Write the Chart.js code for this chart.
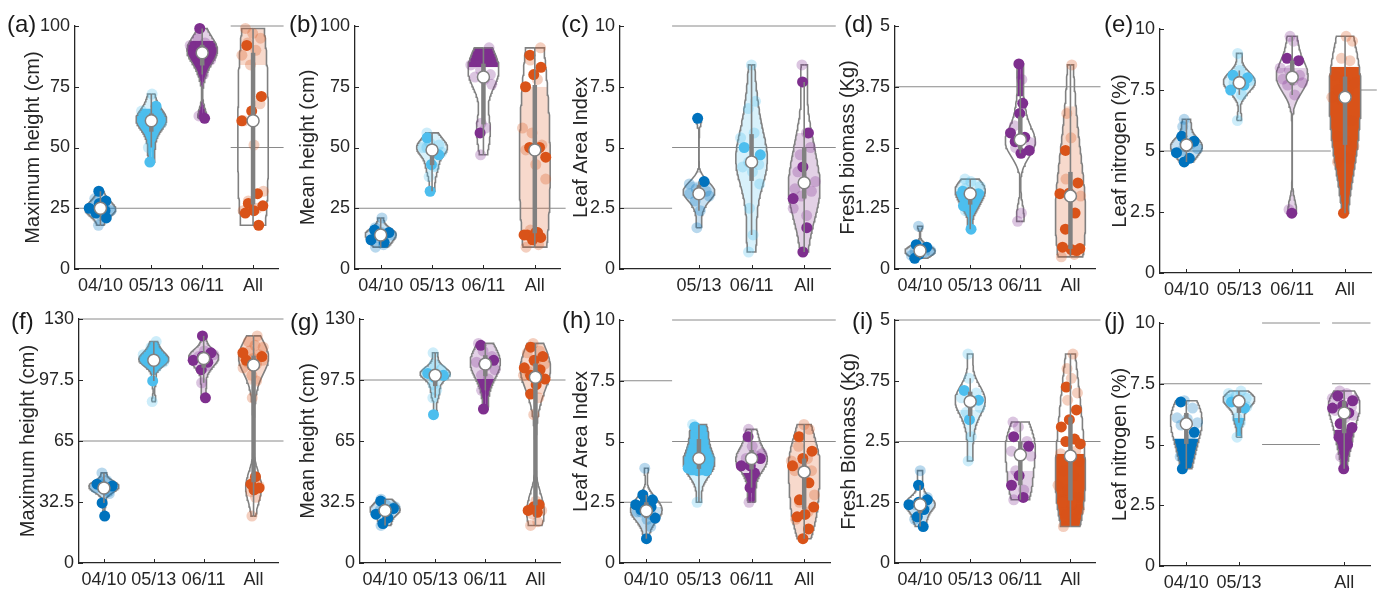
<!DOCTYPE html>
<html><head><meta charset="utf-8">
<script src="https://cdn.jsdelivr.net/npm/chart.js@4.4.1/dist/chart.umd.min.js"></script>
<style>
html,body{margin:0;padding:0;background:#fff;width:1382px;height:590px;overflow:hidden;position:relative;font-family:"Liberation Sans",Arial,Helvetica,sans-serif;}
canvas{position:absolute;}
.lbl{position:absolute;font-size:24px;line-height:24px;color:#1a1a1a;white-space:nowrap;}
</style></head><body>
<script>
// ---------------- DATA ----------------
const CATS = ['04/10', '05/13', '06/11', 'All'];

const ticks100 = [0, 25, 50, 75, 100];
const ticks10 = [0, 2.5, 5, 7.5, 10];
const ticks5 = [0, 1.25, 2.5, 3.75, 5];
const ticks130 = [0, 32.5, 65, 97.5, 130];
const labels100 = ['0', '25', '50', '75', '100'];
const labels10 = ['0', '2.5', '5', '7.5', '10'];
const labels5 = ['0', '1.25', '2.5', '3.75', '5'];
const labels130 = ['0', '32.5', '65', '97.5', '130'];

// observations per group [04/10, 05/13, 06/11, All]; "solid" = opaque dots, "faint" = pale dots
const aSolid = [[32,28,27,25,24,23,21],[44,67],[99,62],[92,71,65,61,31,27,26,24,23,18]];
const aFaint = [[29,26,25,24,22,18],[50,55,58,60,61,61,62,63,65,72],[63,80,85,86,88,89,90,91,92,93,95],[24,25,28,32,51,61,68,84,88,90,93,95,97,99]];
const bSolid = [[16,15,14,12,11],[54,47,43,32],[56],[88,83,80,75,50,50,46,15,14,13,12,14,15]];
const bFaint = [[9,10,13,14,15,17,21],[38,42,50,48,49,50,51,52,56],[47,58,60,76,78,79,80,82,84,86,88,91],[9,10,16,37,43,49,51,56,58,78,86,91]];
const cSolid = [[],[6.2,3.6],[5.0,4.7],[7.7,5.6,4.2,2.9,1.7,0.7]];
const cFaint = [[],[1.7,2.4,2.8,3.0,3.1,3.1,3.2,3.3,3.5],[0.7,1.4,2.5,3.5,4.0,4.2,4.3,4.4,5.4,5.6,6.6,6.9,8.4],[8.4,5.6,4.7,3.6,3.5,3.3,3.2,3.0,2.5,2.2,4.0,5.0]];
const dSolid = [[0.5,0.45,0.3,0.22],[1.6,1.55,1.4,1.3,0.82],[4.22,3.41,3.2,2.8,2.71,2.62,2.44,2.38],[2.44,1.77,1.56,1.55,1.15,0.82,0.42,0.4,0.45,0.38]];
const dFaint = [[0.28,0.35,0.37,0.38,0.42,0.88],[1.2,1.5,1.65,1.7,1.8,1.85],[0.98,1.15,2.5,2.6,2.66,2.95,3.9],[0.25,0.3,1.85,1.5,2.7,3.2,4.2]];
const eSolid = [[5.6,5.4,5.3,4.93,4.7,4.55],[8.1,8.0,7.75,7.5,7.7],[8.8,8.7,2.45],[2.45]];
const eFaint = [[6.0,5.3,5.0,5.1,5.2,6.3],[6.25,7.3,7.8,7.9,8.3,9.0],[2.6,7.3,7.7,7.8,7.9,7.95,8.1,8.3,8.4,9.5,9.7],[4.55,4.7,4.9,5.2,5.4,5.6,6.25,7.1,7.2,7.4,7.5,7.8,7.9,8.1,8.7,8.8,9.5,9.7]];
const fSolid = [[42,41,40,32,25],[97],[121,112,110,108,107,103,88],[108,110,105,112,46,42,40,39]];
const fFaint = [[48,44,43,37,39,40,38,42],[86,104,106,107,108,108,109,110,111,112,115,118],[96,105,110,111,113],[25,35,38,41,44,88,97,100,104,106,107,108,109,110,111,113,115,116,118,121]];
const gSolid = [[33,29,28,26,24,21],[101,100,99,79],[116,108,106,82],[115,110,108,104,103,100,98,95,90,31,30,28,27]];
const gFaint = [[20,27,28,30,31,34],[88,92,95,100,101,102,103,106,112],[92,98,100,103,105,107,110,113,117],[20,22,26,28,33,79,88,99,100,101,102,106,107,112,113,117]];
const hSolid = [[2.8,2.6,2.5,2.4,2.3,2.2,1.85,1.0],[5.6,3.8,3.8,3.9],[5.2,4.3,4.0,4.0,3.7,3.1],[5.2,4.6,4.3,4.0,3.3,2.6,2.3,2.0,1.9,1.4,1.0]];
const hFaint = [[3.9,2.0,2.1,1.5,1.8,2.1],[2.5,4.0,4.2,4.3,4.4,4.7,5.0,5.4,5.7],[2.5,4.4,4.3,4.5,4.8,5.5],[1.8,2.1,2.5,2.8,3.7,3.8,3.8,4.0,4.2,4.3,4.8,5.5,5.7]];
const iSolid = [[1.6,1.3,1.25,1.2,1.1,0.95,0.75],[3.55,3.35,2.95],[2.6,2.4,1.8,1.6,1.35],[3.62,3.15,2.95,2.8,2.55,2.5,2.45,1.25,1.25]];
const iFaint = [[0.9,1.15,1.2,1.35,1.9],[2.1,2.6,3.1,3.2,3.3,3.4,3.5,3.8,4.3],[1.3,1.5,1.9,2.2,2.25,2.3,2.5,2.8,2.9],[0.75,0.9,1.0,1.1,1.2,1.3,1.35,1.5,1.6,1.8,1.9,2.1,2.2,2.25,2.3,3.35,3.5,3.8,4.0,4.3]];
const jSolid = [[6.75,5.5,4.85,4.0],[6.75,6.5],[],[7.0,6.8,6.6,6.5,6.3,5.86,5.7,5.45,5.3,5.0,4.0]];
const jFaint = [[4.5,5.2,5.8,5.9,6.05,6.1,6.5,6.8],[5.3,5.9,6.1,6.55,6.8,6.85,6.9,7.0,7.1,7.2],[],[4.5,4.85,5.5,6.85,6.1,6.4,6.55,6.75,6.9,7.1,7.2,6.2]];

// reference lines [y value, from category position, to category position]
const aRefs = [[25,0.5,3.56],[50,3.56,4.6],[100,3.56,4.6]];
const bRefs = [[25,0.5,4.6]];
const cRefs = [[10,1.49,4.6],[5,1.49,4.6],[2.5,0.5,1.49]];
const dRefs = [[3.75,0.5,4.6]];
const eRefs = [[5,0.5,3.73],[7.5,4.25,4.6]];
const fRefs = [[130,0.5,4.6],[65,0.5,4.6]];
const gRefs = [[97.5,0.5,4.6]];
const hRefs = [[10,1.49,4.6],[7.5,0.5,1.49],[5,1.49,4.6],[2.5,0.5,1.49]];
const iRefs = [[5,0.5,4.6],[2.5,0.5,4.6]];
const jRefs = [[7.5,0.5,2.44],[10,2.44,3.54],[5,2.44,3.54],[10,3.77,4.5],[7.5,3.77,4.5]];

// ---------------- STYLE / LAYOUT ----------------
const BLUE = '#0072BD', LBLUE = '#4DBEEE', PURPLE = '#7E2F8E', ORANGE = '#D95319';
const GRAY = '#808080', AX = '#262626';
const FF = '"Liberation Sans", Arial, Helvetica, sans-serif';

const panels = [
  {letter:'(a)', lx:7, ly:12, L:75, R:279, T:26, B:269, title:'Maximum height (cm)', tpad:21, yt:ticks100, yl:labels100, xt:[1,2,3,4],
   colors:[BLUE,LBLUE,PURPLE,ORANGE], solid:aSolid, faint:aFaint, refs:aRefs,
   styles:[{light:'all'},{light:'all',solid:[44,66]},{light:[94,99],solid:[62,94]},{light:[84,99]}]},
  {letter:'(b)', lx:289, ly:12, L:355, R:561, T:26, B:269, title:'Mean height (cm)', tpad:16, yt:ticks100, yl:labels100, xt:[1,2,3,4],
   colors:[BLUE,LBLUE,PURPLE,ORANGE], solid:bSolid, faint:bFaint, refs:bRefs,
   styles:[{light:'all'},{light:[40,56]},{solid:[83,91]},{light:[9,75]}]},
  {letter:'(c)', lx:561, ly:12, L:620, R:831, T:26, B:269, title:'Leaf Area Index', tpad:24, yt:ticks10, yl:labels10, xt:[2,3,4],
   colors:[BLUE,BLUE,LBLUE,PURPLE], solid:cSolid, faint:cFaint, refs:cRefs,
   styles:[{},{light:[1.7,3.6]},{light:'all'},{light:[0.7,5.6]}]},
  {letter:'(d)', lx:844, ly:12, L:895, R:1096, T:26, B:269, title:'Fresh biomass (Kg)', tpad:16, yt:ticks5, yl:labels5, xt:[1,2,3,4],
   colors:[BLUE,LBLUE,PURPLE,ORANGE], solid:dSolid, faint:dFaint, refs:dRefs,
   styles:[{light:'all'},{light:'all',solid:[0.82,1.6]},{solid:[3.55,4.25]},{light:[0.25,3.35]}]},
  {letter:'(e)', lx:1104, ly:12, L:1160, R:1372, T:29, B:273, title:'Leaf nitrogen (%)', tpad:23, yt:ticks10, yl:labels10, xt:[1,2,3,4],
   colors:[BLUE,LBLUE,PURPLE,ORANGE], solid:eSolid, faint:eFaint, refs:eRefs,
   styles:[{light:'all'},{light:'all'},{light:[2.45,8.4]},{solid:[2.45,8.45]}]},
  {letter:'(f)', lx:11, ly:309, L:79, R:279, T:319, B:563, title:'Maximum height (cm)', tpad:12, yt:ticks130, yl:labels130, xt:[1,2,3,4],
   colors:[BLUE,LBLUE,PURPLE,ORANGE], solid:fSolid, faint:fFaint, refs:fRefs,
   styles:[{light:'all'},{light:'all',solid:[100,118]},{light:'all'},{light:[95,121]}]},
  {letter:'(g)', lx:290, ly:310, L:360, R:561, T:319, B:563, title:'Mean height (cm)', tpad:11, yt:ticks130, yl:labels130, xt:[1,2,3,4],
   colors:[BLUE,LBLUE,PURPLE,ORANGE], solid:gSolid, faint:gFaint, refs:gRefs,
   styles:[{light:'all'},{light:'all'},{light:[98,117],solid:[82,98]},{light:[90,117]}]},
  {letter:'(h)', lx:562, ly:308, L:620, R:831, T:320, B:563, title:'Leaf Area Index', tpad:24, yt:ticks10, yl:labels10, xt:[1,2,3,4],
   colors:[BLUE,LBLUE,PURPLE,ORANGE], solid:hSolid, faint:hFaint, refs:hRefs,
   styles:[{light:[1.0,2.3]},{light:'all',solid:[3.6,5.7]},{light:[3.7,5.0],solid:[2.5,3.7]},{light:'all'}]},
  {letter:'(i)', lx:852, ly:309, L:895, R:1096, T:320, B:563, title:'Fresh Biomass (Kg)', tpad:17, yt:ticks5, yl:labels5, xt:[1,2,3,4],
   colors:[BLUE,LBLUE,PURPLE,ORANGE], solid:iSolid, faint:iFaint, refs:iRefs,
   styles:[{light:[0.75,1.25]},{light:[2.1,3.15]},{light:[1.3,1.9]},{solid:[0.75,2.25]}]},
  {letter:'(j)', lx:1104, ly:309, L:1160, R:1371, T:323, B:566, title:'Leaf nitrogen (%)', tpad:23, yt:ticks10, yl:labels10, xt:[1,2,4],
   colors:[BLUE,LBLUE,PURPLE,PURPLE], solid:jSolid, faint:jFaint, refs:jRefs,
   styles:[{solid:[4.0,5.25]},{light:[6.1,7.2],solid:[5.35,6.1]},{},{solid:[4.0,5.6]}]}
];

// ---------------- HELPERS ----------------
function rgba(hex, a) {
  const n = parseInt(hex.slice(1), 16);
  return 'rgba(' + ((n >> 16) & 255) + ',' + ((n >> 8) & 255) + ',' + (n & 255) + ',' + a + ')';
}
function quantile(arr, p) {
  const s = [...arr].sort((a, b) => a - b), n = s.length;
  const pos = n * p + 0.5;
  if (pos <= 1) return s[0];
  if (pos >= n) return s[n - 1];
  const lo = Math.floor(pos), f = pos - lo;
  return s[lo - 1] + f * (s[lo] - s[lo - 1]);
}
function bandwidth(d) {
  const n = d.length, med = quantile(d, 0.5);
  let sig = quantile(d.map(v => Math.abs(v - med)), 0.5) / 0.6745;
  if (!(sig > 0)) { const m = d.reduce((a, b) => a + b, 0) / n; sig = Math.sqrt(d.reduce((a, b) => a + (b - m) * (b - m), 0) / Math.max(1, n - 1)) || 1; }
  return sig * Math.pow(4 / (3 * n), 0.2);
}
function kde(d, h, y) {
  let s = 0;
  for (const v of d) { const z = (y - v) / h; s += Math.exp(-0.5 * z * z); }
  return s / (d.length * h);
}

const inTicks = {
  id: 'inTicks',
  afterDatasetsDraw(chart) {
    const {ctx, chartArea: a} = chart, x = chart.scales.x, y = chart.scales.y;
    ctx.save(); ctx.strokeStyle = AX; ctx.lineWidth = 1; ctx.beginPath();
    x.ticks.forEach(t => { const px = Math.round(x.getPixelForValue(t.value)) + 0.5; ctx.moveTo(px, a.bottom); ctx.lineTo(px, a.bottom - 4); });
    y.ticks.forEach(t => { const py = Math.round(y.getPixelForValue(t.value)) + 0.5; ctx.moveTo(a.left, py); ctx.lineTo(a.left + 4, py); });
    ctx.stroke(); ctx.restore();
  }
};

function buildPanel(p) {
  const YW = 75, XH = 34, PT = 20, PR = 7;
  const W = p.R - p.L + YW + PR, H = p.B - p.T + PT + XH;
  const cv = document.createElement('canvas');
  cv.width = W; cv.height = H;
  cv.style.left = (p.L - YW) + 'px'; cv.style.top = (p.T - PT) + 'px';
  cv.style.width = W + 'px'; cv.style.height = H + 'px';
  document.body.appendChild(cv);
  const lbl = document.createElement('div');
  lbl.className = 'lbl'; lbl.textContent = p.letter;
  lbl.style.left = p.lx + 'px'; lbl.style.top = p.ly + 'px';
  document.body.appendChild(lbl);

  const ds = [];
  p.refs.forEach(r => ds.push({type:'line', data:[{x:r[1], y:r[0]}, {x:r[2], y:r[0]}], borderColor:'#8a8a8a', borderWidth:1,
    pointRadius:0, fill:false, clip:false, order:20}));

  for (let g = 0; g < 4; g++) {
    const all = p.solid[g].concat(p.faint[g]);
    if (!all.length) continue;
    const pos = g + 1, col = p.colors[g], st = p.styles[g];
    const mn = Math.min(...all), mx = Math.max(...all);
    const h = bandwidth(all);
    let maxd = 0;
    for (let i = 0; i <= 200; i++) maxd = Math.max(maxd, kde(all, h, mn + (mx - mn) * i / 200));
    const wid = y => 0.3 * kde(all, h, y) / maxd;
    const half = (lo, hi, side) => {
      const pts = [{x:pos, y:lo}], n = 80;
      for (let i = 0; i <= n; i++) { const y = lo + (hi - lo) * i / n; pts.push({x:pos + side * wid(y), y}); }
      pts.push({x:pos, y:hi});
      return pts;
    };
    const fillRange = (rng, color, order) => {
      const lo = Math.max(mn, rng[0]), hi = Math.min(mx, rng[1]);
      if (!(hi > lo)) return;
      [-1, 1].forEach(s => ds.push({type:'line', indexAxis:'y', data:half(lo, hi, s), borderWidth:0, pointRadius:0,
        fill:{value:pos}, backgroundColor:color, clip:false, order}));
    };
    if (st.light) fillRange(st.light === 'all' ? [mn, mx] : st.light, rgba(col, 0.22), 13);
    if (st.solid) fillRange(st.solid, col, 12);
    [-1, 1].forEach(s => ds.push({type:'line', indexAxis:'y', data:half(mn, mx, s), borderColor:GRAY, borderWidth:1.6,
      pointRadius:0, fill:false, clip:false, order:10}));

    const q1 = quantile(all, 0.25), q2 = quantile(all, 0.5), q3 = quantile(all, 0.75), iqr = q3 - q1;
    const wlo = Math.min(...all.filter(v => v >= q1 - 1.5 * iqr));
    const whi = Math.max(...all.filter(v => v <= q3 + 1.5 * iqr));

    const jit = (arr, off) => arr.map((v, k) => {
      const u = ((((k + off) * 0.618034 + 0.21) % 1) * 2 - 1);
      return {x: pos + u * wid(v) * 0.85, y: v};
    });
    ds.push({type:'line', showLine:false, data:jit(p.faint[g], 3), pointRadius:5.5, pointBackgroundColor:rgba(col, 0.28),
      pointBorderWidth:0, clip:false, order:5});
    ds.push({type:'line', showLine:false, data:jit(p.solid[g], 0), pointRadius:5.5, pointBackgroundColor:col,
      pointBorderWidth:0, clip:false, order:4});
    ds.push({type:'line', data:[{x:pos, y:wlo}, {x:pos, y:whi}], borderColor:GRAY, borderWidth:1.6, pointRadius:0, fill:false, clip:false, order:3});
    ds.push({type:'line', data:[{x:pos, y:q1}, {x:pos, y:q3}], borderColor:GRAY, borderWidth:4.5, borderCapStyle:'butt', pointRadius:0, fill:false, clip:false, order:2});
    ds.push({type:'line', showLine:false, data:[{x:pos, y:q2}], pointRadius:6, pointBackgroundColor:'#ffffff',
      pointBorderColor:GRAY, pointBorderWidth:1.5, clip:false, order:0});
  }

  new Chart(cv, {
    type:'line',
    data:{datasets:ds},
    options:{
      responsive:false, animation:false, events:[],
      layout:{padding:{top:PT, right:PR, left:0, bottom:0}},
      plugins:{legend:{display:false}, tooltip:{enabled:false}},
      scales:{
        x:{type:'linear', min:0.5, max:4.5, grid:{display:false, drawTicks:false}, border:{display:true, color:AX, width:1.3},
          afterFit:s => { s.height = XH; },
          afterBuildTicks:s => { s.ticks = p.xt.map(v => ({value:v})); },
          ticks:{autoSkip:false, maxRotation:0, minRotation:0, padding:6, color:AX, font:{family:FF, size:18},
            callback:v => CATS[Math.round(v) - 1]}},
        y:{type:'linear', min:0, max:p.yt[p.yt.length - 1], grid:{display:false, drawTicks:false}, border:{display:true, color:AX, width:1.3},
          afterFit:s => { s.width = YW; },
          afterBuildTicks:s => { s.ticks = p.yt.map(v => ({value:v})); },
          ticks:{padding:5, color:AX, font:{family:FF, size:18}, callback:(v, i) => p.yl[i]},
          title:{display:true, text:p.title, color:AX, font:{family:FF, size:20}, padding:{top:p.tpad, bottom:0}}}
      }
    },
    plugins:[inTicks]
  });
}

panels.forEach(buildPanel);
</script>
</body></html>
